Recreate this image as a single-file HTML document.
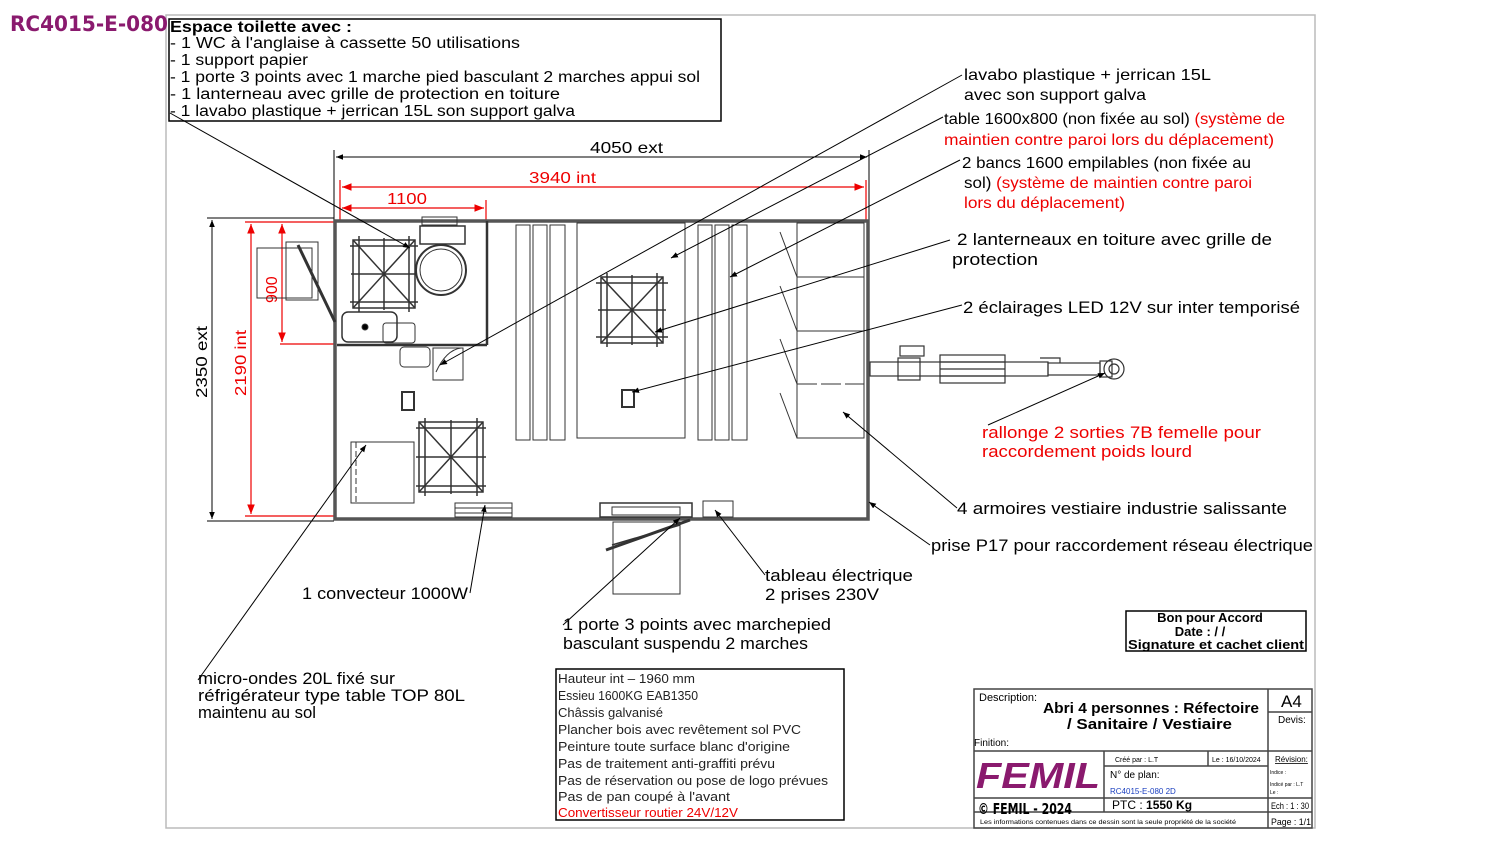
<!DOCTYPE html>
<html><head><meta charset="utf-8"><style>
html,body{margin:0;padding:0;background:#fff}
svg{display:block}
text{font-family:"Liberation Sans",sans-serif}
</style></head><body>
<svg width="1488" height="845" viewBox="0 0 1488 845" xmlns="http://www.w3.org/2000/svg">
<defs>
<marker id="a" viewBox="0 0 10 10" refX="10" refY="5" markerWidth="7" markerHeight="7" orient="auto-start-reverse"><path d="M0,1 L10,5 L0,9 z" fill="#000"/></marker>
<marker id="r" viewBox="0 0 10 10" refX="10" refY="5" markerWidth="8" markerHeight="8" orient="auto-start-reverse"><path d="M0,1 L10,5 L0,9 z" fill="#e00"/></marker>
</defs>
<rect x="166" y="15" width="1149" height="813" fill="none" stroke="#bbb" stroke-width="1.5"/>
<text x="10" y="31" font-size="21" fill="#8a1a6e" font-weight="bold" style="font-family:'DejaVu Sans',sans-serif" textLength="158" lengthAdjust="spacingAndGlyphs">RC4015-E-080</text>

<rect x="169" y="19" width="552" height="102" fill="#fff" stroke="#000" stroke-width="1.5"/>
<g font-size="15.5" fill="#000" lengthAdjust="spacingAndGlyphs">
<text x="170" y="32" font-weight="bold" textLength="182" lengthAdjust="spacingAndGlyphs">Espace toilette avec :</text>
<text x="170" y="48" textLength="350" lengthAdjust="spacingAndGlyphs">- 1 WC à l'anglaise à cassette 50 utilisations</text>
<text x="170" y="65" textLength="138" lengthAdjust="spacingAndGlyphs">- 1 support papier</text>
<text x="170" y="82" textLength="530" lengthAdjust="spacingAndGlyphs">- 1 porte 3 points avec 1 marche pied basculant 2 marches appui sol</text>
<text x="170" y="99" textLength="390" lengthAdjust="spacingAndGlyphs">- 1 lanterneau avec grille de protection en toiture</text>
<text x="170" y="116" textLength="405" lengthAdjust="spacingAndGlyphs">- 1 lavabo plastique + jerrican 15L son support galva</text>
</g>

<g stroke="#000" stroke-width="1" fill="none">
<line x1="334" y1="150" x2="334" y2="222"/><line x1="869" y1="150" x2="869" y2="222"/>
<line x1="336" y1="157" x2="867" y2="157" marker-start="url(#a)" marker-end="url(#a)"/>
<line x1="207" y1="218" x2="334" y2="218"/><line x1="207" y1="521" x2="334" y2="521"/>
<line x1="212" y1="220" x2="212" y2="519" marker-start="url(#a)" marker-end="url(#a)"/>
</g>
<text x="590" y="153" font-size="16" textLength="73" lengthAdjust="spacingAndGlyphs">4050 ext</text>
<text x="207" y="398" font-size="16" transform="rotate(-90 207 398)" textLength="72" lengthAdjust="spacingAndGlyphs">2350 ext</text>
<g stroke="#e00" stroke-width="1.2" fill="none">
<line x1="340" y1="180" x2="340" y2="222"/><line x1="866" y1="180" x2="866" y2="222"/>
<line x1="342" y1="187" x2="864" y2="187" marker-start="url(#r)" marker-end="url(#r)"/>
<line x1="486" y1="200" x2="486" y2="222"/>
<line x1="342" y1="208" x2="484" y2="208" marker-start="url(#r)" marker-end="url(#r)"/>
<line x1="245" y1="222" x2="336" y2="222"/><line x1="245" y1="516" x2="336" y2="516"/>
<line x1="251" y1="224" x2="251" y2="514" marker-start="url(#r)" marker-end="url(#r)"/>
<line x1="280" y1="344" x2="336" y2="344"/>
<line x1="282" y1="224" x2="282" y2="342" marker-start="url(#r)" marker-end="url(#r)"/>
</g>
<g fill="#e00" font-size="16">
<text x="529" y="183" textLength="67" lengthAdjust="spacingAndGlyphs">3940 int</text>
<text x="387" y="204" textLength="40" lengthAdjust="spacingAndGlyphs">1100</text>
<text x="246" y="396" transform="rotate(-90 246 396)" textLength="66" lengthAdjust="spacingAndGlyphs">2190 int</text>
<text x="277" y="303" transform="rotate(-90 277 303)">900</text>
</g>

<g fill="none" stroke="#333">
<rect x="335" y="221" width="533" height="298" stroke-width="3.5" stroke="#555"/>
<line x1="487" y1="221" x2="487" y2="345" stroke-width="2.5"/>
<line x1="337" y1="345" x2="487" y2="345" stroke-width="2.5"/>
<g stroke-width="1">
<rect x="516" y="225" width="14" height="215"/><rect x="533" y="225" width="14" height="215"/><rect x="550" y="225" width="15" height="215"/>
<rect x="577" y="223" width="108" height="215"/>
<rect x="698" y="225" width="14" height="215"/><rect x="715" y="225" width="14" height="215"/><rect x="732" y="225" width="15" height="215"/>
<rect x="797" y="223" width="67" height="215"/>
<line x1="797" y1="277" x2="864" y2="277"/><line x1="797" y1="331" x2="864" y2="331"/><line x1="797" y1="384" x2="864" y2="384" stroke-dasharray="20 4"/>
<line x1="780" y1="232" x2="797" y2="277"/><line x1="780" y1="286" x2="797" y2="331"/><line x1="780" y1="339" x2="797" y2="384"/><line x1="780" y1="393" x2="797" y2="438"/>
<g stroke-width="1.5">
<rect x="601" y="277" width="62" height="66"/><line x1="601" y1="277" x2="663" y2="343"/><line x1="663" y1="277" x2="601" y2="343"/><line x1="632" y1="275" x2="632" y2="345"/><line x1="598" y1="310" x2="666" y2="310"/>
<line x1="596" y1="283" x2="668" y2="283"/><line x1="596" y1="337" x2="668" y2="337"/><line x1="607" y1="273" x2="607" y2="347"/><line x1="657" y1="273" x2="657" y2="347"/>
<rect x="353" y="240" width="62" height="68"/><line x1="353" y1="240" x2="415" y2="308"/><line x1="415" y1="240" x2="353" y2="308"/><line x1="384" y1="238" x2="384" y2="310"/><line x1="351" y1="274" x2="417" y2="274"/>
<line x1="350" y1="246" x2="418" y2="246"/><line x1="350" y1="302" x2="418" y2="302"/><line x1="359" y1="236" x2="359" y2="312"/><line x1="409" y1="236" x2="409" y2="312"/>
<rect x="419" y="422" width="64" height="70"/><line x1="419" y1="422" x2="483" y2="492"/><line x1="483" y1="422" x2="419" y2="492"/><line x1="451" y1="420" x2="451" y2="494"/><line x1="416" y1="457" x2="486" y2="457"/>
<line x1="416" y1="428" x2="486" y2="428"/><line x1="416" y1="486" x2="486" y2="486"/><line x1="425" y1="418" x2="425" y2="496"/><line x1="477" y1="418" x2="477" y2="496"/>
</g>
<rect x="420" y="226" width="45" height="18" stroke-width="1.5"/><rect x="422" y="217" width="35" height="8"/>
<circle cx="441" cy="270" r="25" stroke-width="2"/><circle cx="441" cy="270" r="21"/>
<rect x="342" y="312" width="55" height="30" rx="6" stroke-width="1.5"/><circle cx="365" cy="327" r="3" fill="#000"/>
<rect x="383" y="323" width="32" height="20" rx="3"/>
<rect x="400" y="347" width="30" height="20" rx="4"/>
<path d="M433,348 h30 v32 h-30 z"/><path d="M436,372 q10,-22 25,-24"/>
<rect x="257" y="248" width="55" height="50"/><rect x="286" y="242" width="32" height="58"/>
<line x1="298" y1="245" x2="335" y2="322" stroke-width="3"/>
<rect x="351" y="442" width="63" height="61"/><line x1="356" y1="442" x2="356" y2="503" stroke-dasharray="6 3"/><line x1="414" y1="445" x2="414" y2="500"/>
<rect x="402" y="392" width="12" height="18" fill="#fff" stroke-width="2"/>
<rect x="622" y="390" width="12" height="17" fill="#fff" stroke-width="2"/>
<rect x="455" y="503" width="57" height="14"/><line x1="455" y1="508" x2="512" y2="508"/><line x1="455" y1="513" x2="512" y2="513"/>
<rect x="600" y="503" width="92" height="14" stroke-width="1.5"/><rect x="612" y="507" width="68" height="8"/>
<rect x="613" y="522" width="67" height="72"/>
<line x1="606" y1="550" x2="690" y2="520" stroke-width="3"/><line x1="612" y1="545" x2="680" y2="525" stroke-width="1.5"/>
<rect x="703" y="501" width="30" height="16"/>
</g>
</g>
<g fill="none" stroke="#333" stroke-width="1.2">
<rect x="870" y="362" width="178" height="14"/>
<rect x="900" y="346" width="24" height="10"/><rect x="898" y="358" width="22" height="22"/>
<rect x="940" y="355" width="65" height="28"/><line x1="940" y1="362" x2="1005" y2="362"/><line x1="940" y1="369" x2="1005" y2="369"/><line x1="940" y1="376" x2="1005" y2="376"/>
<rect x="1048" y="363" width="52" height="12"/><rect x="1100" y="361" width="12" height="16"/>
<circle cx="1114" cy="369" r="10"/><circle cx="1114" cy="369" r="5"/>
<path d="M1040,358 h20 v5"/>
</g>

<g stroke="#000" stroke-width="1" fill="none">
<line x1="170" y1="113" x2="410" y2="248" marker-end="url(#a)"/>
<line x1="962" y1="75" x2="440" y2="365" marker-end="url(#a)"/>
<line x1="943" y1="117" x2="671" y2="258" marker-end="url(#a)"/>
<line x1="960" y1="160" x2="730" y2="277" marker-end="url(#a)"/>
<line x1="950" y1="240" x2="655" y2="332" marker-end="url(#a)"/>
<line x1="962" y1="305" x2="632" y2="392" marker-end="url(#a)"/>
<line x1="988" y1="425" x2="1105" y2="373" marker-end="url(#a)"/>
<line x1="957" y1="508" x2="843" y2="412" marker-end="url(#a)"/>
<line x1="930" y1="545" x2="869" y2="502" marker-end="url(#a)"/>
<line x1="765" y1="575" x2="715" y2="510" marker-end="url(#a)"/>
<line x1="563" y1="625" x2="680" y2="518" marker-end="url(#a)"/>
<line x1="470" y1="593" x2="485" y2="505" marker-end="url(#a)"/>
<line x1="198" y1="680" x2="366" y2="445" marker-end="url(#a)"/>
</g>
<g font-size="16" fill="#000">
<text x="964" y="80" textLength="247" lengthAdjust="spacingAndGlyphs">lavabo plastique + jerrican 15L</text>
<text x="964" y="100" textLength="182" lengthAdjust="spacingAndGlyphs">avec son support galva</text>
<text x="944" y="124" textLength="341" lengthAdjust="spacingAndGlyphs">table 1600x800 (non fixée au sol) <tspan fill="#e00">(système de</tspan></text>
<text x="944" y="145" fill="#e00" textLength="330" lengthAdjust="spacingAndGlyphs">maintien contre paroi lors du déplacement)</text>
<text x="962" y="168" textLength="289" lengthAdjust="spacingAndGlyphs">2 bancs 1600 empilables (non fixée au</text>
<text x="964" y="188" textLength="288" lengthAdjust="spacingAndGlyphs">sol) <tspan fill="#e00">(système de maintien contre paroi</tspan></text>
<text x="964" y="208" fill="#e00" textLength="161" lengthAdjust="spacingAndGlyphs">lors du déplacement)</text>
<text x="957" y="245" font-size="17" textLength="315" lengthAdjust="spacingAndGlyphs">2 lanterneaux en toiture avec grille de</text>
<text x="952" y="265" font-size="17" textLength="86" lengthAdjust="spacingAndGlyphs">protection</text>
<text x="963" y="313" font-size="17" textLength="337" lengthAdjust="spacingAndGlyphs">2 éclairages LED 12V sur inter temporisé</text>
<text x="982" y="438" font-size="17" fill="#e00" textLength="279" lengthAdjust="spacingAndGlyphs">rallonge 2 sorties 7B femelle pour</text>
<text x="982" y="457" font-size="17" fill="#e00" textLength="210" lengthAdjust="spacingAndGlyphs">raccordement poids lourd</text>
<text x="957" y="514" font-size="17" textLength="330" lengthAdjust="spacingAndGlyphs">4 armoires vestiaire industrie salissante</text>
<text x="931" y="551" font-size="17" textLength="382" lengthAdjust="spacingAndGlyphs">prise P17 pour raccordement réseau électrique</text>
<text x="765" y="581" font-size="17" textLength="148" lengthAdjust="spacingAndGlyphs">tableau électrique</text>
<text x="765" y="600" font-size="17" textLength="114" lengthAdjust="spacingAndGlyphs">2 prises 230V</text>
<text x="563" y="630" font-size="17" textLength="268" lengthAdjust="spacingAndGlyphs">1 porte 3 points avec marchepied</text>
<text x="563" y="649" font-size="17" textLength="245" lengthAdjust="spacingAndGlyphs">basculant suspendu 2 marches</text>
<text x="302" y="599" font-size="17" textLength="166" lengthAdjust="spacingAndGlyphs">1 convecteur 1000W</text>
<text x="198" y="684" font-size="17" textLength="197" lengthAdjust="spacingAndGlyphs">micro-ondes 20L fixé sur</text>
<text x="198" y="701" font-size="17" textLength="267" lengthAdjust="spacingAndGlyphs">réfrigérateur type table TOP 80L</text>
<text x="198" y="718" font-size="17" textLength="118" lengthAdjust="spacingAndGlyphs">maintenu au sol</text>
</g>

<rect x="556" y="669" width="288" height="151" fill="none" stroke="#000" stroke-width="1.5"/>
<g font-size="13" fill="#222">
<text x="558" y="683" textLength="137" lengthAdjust="spacingAndGlyphs">Hauteur int – 1960 mm</text>
<text x="558" y="700" textLength="140" lengthAdjust="spacingAndGlyphs">Essieu 1600KG EAB1350</text>
<text x="558" y="717" textLength="105" lengthAdjust="spacingAndGlyphs">Châssis galvanisé</text>
<text x="558" y="734" textLength="243" lengthAdjust="spacingAndGlyphs">Plancher bois avec revêtement sol PVC</text>
<text x="558" y="751" textLength="232" lengthAdjust="spacingAndGlyphs">Peinture toute surface blanc d'origine</text>
<text x="558" y="768" textLength="217" lengthAdjust="spacingAndGlyphs">Pas de traitement anti-graffiti prévu</text>
<text x="558" y="785" textLength="270" lengthAdjust="spacingAndGlyphs">Pas de réservation ou pose de logo prévues</text>
<text x="558" y="801" textLength="172" lengthAdjust="spacingAndGlyphs">Pas de pan coupé à l'avant</text>
<text x="558" y="817" fill="#e00" textLength="180" lengthAdjust="spacingAndGlyphs">Convertisseur routier 24V/12V</text>
</g>

<rect x="1126" y="611" width="180" height="40" fill="none" stroke="#000" stroke-width="1.5"/>
<g font-size="13" font-weight="bold" text-anchor="middle">
<text x="1210" y="622">Bon pour Accord</text>
<text x="1200" y="636">Date :    /    /</text>
<text x="1216" y="649" textLength="176" lengthAdjust="spacingAndGlyphs">Signature et cachet client</text>
</g>

<g fill="none" stroke="#444" stroke-width="1.5">
<rect x="974" y="689" width="338" height="139"/>
<line x1="1268" y1="689" x2="1268" y2="828"/>
<line x1="974" y1="751" x2="1312" y2="751"/>
<line x1="1268" y1="712" x2="1312" y2="712"/>
<line x1="1104" y1="751" x2="1104" y2="812"/>
<line x1="1104" y1="766" x2="1268" y2="766"/>
<line x1="1208" y1="751" x2="1208" y2="766"/>
<line x1="974" y1="798" x2="1312" y2="798"/>
<line x1="974" y1="812" x2="1312" y2="812"/>
</g>
<g fill="#000">
<text x="979" y="701" font-size="11">Description:</text>
<text x="1043" y="713" font-size="15" font-weight="bold" textLength="216" lengthAdjust="spacingAndGlyphs">Abri 4 personnes : Réfectoire</text>
<text x="1067" y="729" font-size="15" font-weight="bold" textLength="165" lengthAdjust="spacingAndGlyphs">/ Sanitaire / Vestiaire</text>
<text x="974" y="746" font-size="10">Finition:</text>
<text x="1281" y="707" font-size="17">A4</text>
<text x="1278" y="723" font-size="10">Devis:</text>
<text x="976" y="788" font-size="36" font-weight="bold" font-style="italic" fill="#8a1a6e" textLength="124" lengthAdjust="spacingAndGlyphs">FEMIL</text>
<text x="978" y="814" font-size="15" font-weight="bold" style="font-family:'DejaVu Sans Condensed','DejaVu Sans',sans-serif" textLength="94" lengthAdjust="spacingAndGlyphs">© FEMIL - 2024</text>
<text x="1115" y="762" font-size="7">Créé par : L.T</text>
<text x="1212" y="762" font-size="7">Le : 16/10/2024</text>
<text x="1110" y="778" font-size="10">N° de plan:</text>
<text x="1110" y="794" font-size="8" fill="#1a3fbf">RC4015-E-080 2D</text>
<text x="1112" y="809" font-size="12">PTC : <tspan font-weight="bold">1550 Kg</tspan></text>
<text x="1275" y="762" font-size="8" text-decoration="underline">Révision:</text>
<text x="1270" y="774" font-size="5">Indice :</text>
<text x="1270" y="786" font-size="5">Indicé par : L.T</text>
<text x="1270" y="794" font-size="5">Le :</text>
<text x="1271" y="809" font-size="9" textLength="38" lengthAdjust="spacingAndGlyphs">Ech : 1 : 30</text>
<text x="1271" y="825" font-size="9" textLength="40" lengthAdjust="spacingAndGlyphs">Page : 1/1</text>
<text x="980" y="824" font-size="6" textLength="256" lengthAdjust="spacingAndGlyphs">Les informations contenues dans ce dessin sont la seule propriété de la société</text>
</g>
</svg>
</body></html>
